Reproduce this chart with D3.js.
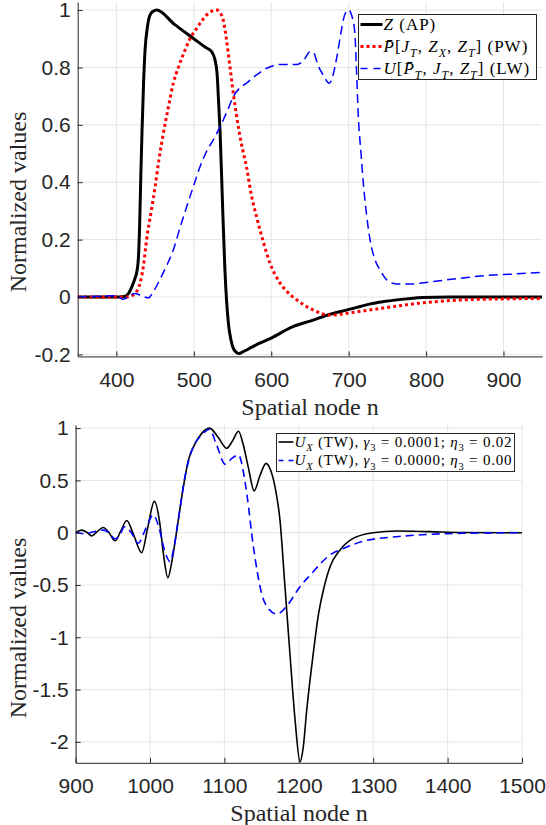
<!DOCTYPE html>
<html>
<head>
<meta charset="utf-8">
<script src="https://cdn.jsdelivr.net/npm/d3@7"></script>
<style>
    html, body { margin: 0; padding: 0; background: #ffffff; }
    svg { display: block; }
</style>
</head>
<body>
<div id="chart"></div>
<script>
// top panel: travelling pulse profiles
const topNodesZ = [350, 400, 410, 415, 420, 424, 426.5, 428.5, 430, 431.5, 433, 435, 437, 440, 443, 447, 452, 475, 500, 515, 523, 527, 530, 532, 534, 537, 540, 543, 545, 548, 551, 555, 558, 562, 570, 585, 600, 628, 650, 676, 698, 715, 728, 745, 762, 780, 796, 830, 950];
const topValuesZ = [0, 0, 0.002, 0.01, 0.036, 0.065, 0.09, 0.14, 0.25, 0.42, 0.57, 0.74, 0.86, 0.94, 0.98, 0.995, 1.0, 0.95, 0.9, 0.87, 0.855, 0.83, 0.78, 0.68, 0.57, 0.33, 0.105, -0.04, -0.1, -0.15, -0.179, -0.193, -0.197, -0.193, -0.182, -0.161, -0.143, -0.103, -0.084, -0.06, -0.045, -0.033, -0.024, -0.016, -0.01, -0.005, -0.002, 0, 0];

const topNodesP = [350, 415, 420, 425, 430.5, 435, 439, 445, 450, 455, 460.6, 467, 473.5, 480, 488.6, 495, 503.7, 511, 518.7, 525, 529.6, 534, 538, 542, 546.8, 551, 555.4, 561, 568, 574, 581, 590, 598.5, 611, 620, 633, 654, 676, 690, 697.5, 720, 740.6, 770, 796.5, 848, 913, 950];
const topValuesP = [0, 0, 0.005, 0.015, 0.048, 0.11, 0.2, 0.3, 0.384, 0.48, 0.57, 0.66, 0.745, 0.8, 0.86, 0.9, 0.936, 0.965, 0.988, 0.998, 1.0, 0.99, 0.965, 0.9, 0.8, 0.71, 0.628, 0.54, 0.454, 0.36, 0.28, 0.19, 0.117, 0.05, 0.02, -0.01, -0.045, -0.063, -0.06, -0.057, -0.048, -0.04, -0.029, -0.02, -0.01, -0.006, -0.005];

const topNodesU = [350, 380, 400, 409, 417, 424, 432, 441, 448, 456, 465, 473.5, 482, 490.8, 500, 508, 516, 525, 538, 545, 551, 560, 568, 580, 594, 611, 633, 642, 650, 655, 660, 668, 675, 680, 685, 690, 693, 697, 700, 704, 708, 710, 712.5, 716, 719, 723, 727.6, 734, 740.6, 749, 757, 766, 780, 792, 810, 827, 850, 870, 913, 950];
const topValuesU = [0, 0.003, 0.004, -0.008, 0.004, 0.012, 0.005, -0.003, 0.02, 0.06, 0.11, 0.164, 0.24, 0.315, 0.39, 0.454, 0.505, 0.547, 0.617, 0.66, 0.698, 0.73, 0.745, 0.772, 0.797, 0.81, 0.81, 0.825, 0.855, 0.85, 0.81, 0.77, 0.745, 0.775, 0.84, 0.92, 0.965, 0.995, 1.0, 0.98, 0.92, 0.8, 0.628, 0.5, 0.396, 0.29, 0.2, 0.13, 0.094, 0.06, 0.048, 0.045, 0.045, 0.048, 0.054, 0.06, 0.067, 0.073, 0.08, 0.086];

// bottom panel: U_X with and without gamma/eta terms
const bottomNodesA = [900, 908, 915, 921.6, 929, 937, 945, 953, 961, 968.7, 978, 988.8, 997, 1005.8, 1013, 1018, 1024, 1030, 1038, 1044.8, 1051.5, 1060.5, 1069.5, 1080, 1091.8, 1103, 1111, 1119, 1125, 1132, 1140, 1148, 1156, 1162, 1168, 1174.7, 1181.4, 1188, 1195, 1201.6, 1206, 1210.6, 1219.5, 1226, 1233, 1242, 1255.4, 1273, 1300, 1331.6, 1376, 1420, 1500];
const bottomValuesA = [0, 0.025, 0.005, -0.03, 0.01, 0.05, 0, -0.077, 0.02, 0.117, -0.02, -0.19, 0.05, 0.3, 0.1, -0.2, -0.43, -0.25, 0.12, 0.436, 0.69, 0.85, 0.95, 1.0, 0.91, 0.807, 0.88, 0.97, 0.85, 0.63, 0.4, 0.55, 0.663, 0.6, 0.44, 0.12, -0.516, -1.15, -1.79, -2.19, -2.05, -1.7, -1.15, -0.8, -0.55, -0.325, -0.165, -0.054, 0, 0.016, 0.01, 0.002, 0];

const bottomNodesB = [900, 912, 925, 937, 945, 953, 960, 966, 975, 984, 995, 1004.4, 1012, 1020, 1027, 1032, 1038, 1047, 1058, 1069.5, 1080, 1089.5, 1101, 1110, 1119, 1125, 1130, 1139, 1150, 1161, 1170, 1176, 1184, 1201.6, 1219.5, 1228.5, 1242, 1260, 1287, 1331.6, 1376, 1420, 1500];
const bottomValuesB = [0.005, -0.01, 0.01, 0.025, 0, -0.06, -0.01, 0.057, 0, -0.1, 0.05, 0.17, 0.05, -0.18, -0.277, -0.15, 0.12, 0.535, 0.82, 0.934, 0.99, 0.84, 0.655, 0.71, 0.745, 0.6, 0.377, -0.134, -0.58, -0.74, -0.777, -0.76, -0.7, -0.516, -0.373, -0.3, -0.213, -0.15, -0.08, -0.038, -0.016, -0.005, 0];

const topXTicks = [400, 500, 600, 700, 800, 900];
const topYTicks = [-0.2, 0, 0.2, 0.4, 0.6, 0.8, 1];
const bottomXTicks = [900, 1000, 1100, 1200, 1300, 1400, 1500];
const bottomYTicks = [-2, -1.5, -1, -0.5, 0, 0.5, 1];

const topLegendLabels = [
    [{ t: 'Z', i: true }, { t: ' (AP)' }],
    [{ t: 'P\u0304', i: true }, { t: '[' }, { t: 'J', i: true }, { t: 'T', i: true, sub: true }, { t: ', ' }, { t: 'Z', i: true }, { t: 'X', i: true, sub: true }, { t: ', ' }, { t: 'Z', i: true }, { t: 'T', i: true, sub: true }, { t: '] (PW)' }],
    [{ t: 'U', i: true }, { t: '[' }, { t: 'P\u0304', i: true }, { t: 'T', i: true, sub: true }, { t: ', ' }, { t: 'J', i: true }, { t: 'T', i: true, sub: true }, { t: ', ' }, { t: 'Z', i: true }, { t: 'T', i: true, sub: true }, { t: '] (LW)' }]
];
const bottomLegendLabels = [
    [{ t: 'U', i: true }, { t: 'X', i: true, sub: true }, { t: ' (TW), ' }, { t: '\u03b3', i: true }, { t: '3', sub: true }, { t: ' = 0.0001; ' }, { t: '\u03b7', i: true }, { t: '3', sub: true }, { t: ' = 0.02' }],
    [{ t: 'U', i: true }, { t: 'X', i: true, sub: true }, { t: ' (TW), ' }, { t: '\u03b3', i: true }, { t: '3', sub: true }, { t: ' = 0.0000; ' }, { t: '\u03b7', i: true }, { t: '3', sub: true }, { t: ' = 0.00' }]
];

const width = 546;
const height = 825;
const gridColor = '#e5e5e5';
const axisColor = '#262626';
const sansFont = "'Liberation Sans', Arial, sans-serif";
const serifFont = "'Liberation Serif', 'Times New Roman', serif";

const svg = d3.select('#chart').append('svg')
    .attr('width', width)
    .attr('height', height);

const zip = (nodes, values) => nodes.map((node, index) => ({ node, value: values[index] }));

function appendRichText(textNode, segments, fontSize) {
    const shift = fontSize * 0.28;
    let lowered = false;
    segments.forEach((segment) => {
        const span = textNode.append('tspan')
            .attr('font-style', segment.i ? 'italic' : 'normal')
            .attr('font-size', segment.sub ? fontSize * 0.7 : fontSize)
            .text(segment.t);
        if (segment.sub && !lowered) {
            span.attr('dy', shift);
            lowered = true;
        } else if (!segment.sub && lowered) {
            span.attr('dy', -shift);
            lowered = false;
        }
    });
}

function drawPanel(options) {
    const { xDomain, xRange, yDomain, yRange, xTicks, yTicks, yFormat, xPadding, series, clipId } = options;

    const xScale = d3.scaleLinear().domain(xDomain).range(xRange);
    const yScale = d3.scaleLinear().domain(yDomain).range(yRange);
    const panel = svg.append('g');

    panel.append('g')
        .selectAll('line')
        .data(xTicks)
        .enter()
        .append('line')
        .attr('x1', (tick) => xScale(tick))
        .attr('x2', (tick) => xScale(tick))
        .attr('y1', yRange[0])
        .attr('y2', yRange[1])
        .attr('stroke', gridColor)
        .attr('stroke-width', 1);

    panel.append('g')
        .selectAll('line')
        .data(yTicks)
        .enter()
        .append('line')
        .attr('x1', xRange[0])
        .attr('x2', xRange[1])
        .attr('y1', (tick) => yScale(tick))
        .attr('y2', (tick) => yScale(tick))
        .attr('stroke', gridColor)
        .attr('stroke-width', 1);

    panel.append('clipPath')
        .attr('id', clipId)
        .append('rect')
        .attr('x', xRange[0])
        .attr('y', yRange[1] - 2)
        .attr('width', xRange[1] - xRange[0])
        .attr('height', yRange[0] - yRange[1] + 4);

    const line = d3.line()
        .x((datum) => xScale(datum.node))
        .y((datum) => yScale(datum.value))
        .curve(d3.curveMonotoneX);

    const curves = panel.append('g').attr('clip-path', `url(#${clipId})`);
    series.forEach((item) => {
        curves.append('path')
            .datum(zip(item.nodes, item.values))
            .attr('d', line)
            .attr('fill', 'none')
            .attr('stroke', item.color)
            .attr('stroke-width', item.width)
            .attr('stroke-dasharray', item.dash || null)
            .attr('stroke-linejoin', 'round');
    });

    const xAxis = panel.append('g')
        .attr('transform', `translate(0,${yRange[0]})`)
        .call(d3.axisBottom(xScale).tickValues(xTicks).tickSizeInner(-5).tickSizeOuter(0).tickPadding(xPadding).tickFormat(d3.format('d')));
    const yAxis = panel.append('g')
        .attr('transform', `translate(${xRange[0]},0)`)
        .call(d3.axisLeft(yScale).tickValues(yTicks).tickSizeInner(-5).tickSizeOuter(0).tickPadding(7).tickFormat(yFormat));

    [xAxis, yAxis].forEach((axis) => {
        axis.attr('font-size', 21).attr('font-family', sansFont);
        axis.select('.domain').attr('stroke', axisColor).attr('stroke-width', 1);
        axis.selectAll('.tick line').attr('stroke', axisColor);
        axis.selectAll('.tick text')
            .attr('font-family', sansFont)
            .attr('font-size', 21)
            .attr('fill', axisColor);
    });

    return { xScale, yScale, panel };
}

function drawLegend(box, entries, fontSize, rowHeight, sampleWidth, spacing) {
    const legend = svg.append('g');
    legend.append('rect')
        .attr('x', box.x)
        .attr('y', box.y)
        .attr('width', box.width)
        .attr('height', box.height)
        .attr('fill', '#ffffff')
        .attr('stroke', '#262626')
        .attr('stroke-width', 1);

    entries.forEach((entry, index) => {
        const rowY = box.y + box.padTop + rowHeight * index;
        legend.append('line')
            .attr('x1', box.x + 2)
            .attr('x2', box.x + 2 + sampleWidth)
            .attr('y1', rowY)
            .attr('y2', rowY)
            .attr('stroke', entry.color)
            .attr('stroke-width', entry.width)
            .attr('stroke-dasharray', entry.legendDash || entry.dash || null);

        const text = legend.append('text')
            .attr('x', box.x + 3 + sampleWidth)
            .attr('y', rowY + fontSize * 0.33)
            .attr('font-family', serifFont)
            .attr('font-size', fontSize)
            .attr('letter-spacing', spacing)
            .attr('fill', '#000000');
        appendRichText(text, entry.label, fontSize);
    });
}

const topSeries = [
    { nodes: topNodesZ, values: topValuesZ, color: '#000000', width: 3, label: topLegendLabels[0] },
    { nodes: topNodesP, values: topValuesP, color: '#ff0000', width: 3, dash: '3,3', label: topLegendLabels[1] },
    { nodes: topNodesU, values: topValuesU, color: '#0000ff', width: 1.5, dash: '9,5', legendDash: '7,6', label: topLegendLabels[2] }
];

const bottomSeries = [
    { nodes: bottomNodesA, values: bottomValuesA, color: '#000000', width: 1.6, label: bottomLegendLabels[0] },
    { nodes: bottomNodesB, values: bottomValuesB, color: '#0000ff', width: 1.6, dash: '8,5', legendDash: '5,5', label: bottomLegendLabels[1] }
];

drawPanel({
    xDomain: [350, 950],
    xRange: [77.7, 542.2],
    yDomain: [-0.207, 1.028],
    yRange: [356.4, 2],
    xTicks: topXTicks,
    yTicks: topYTicks,
    yFormat: (value) => d3.format('.1~f')(value).replace('\u2212', '-'),
    xPadding: 16,
    series: topSeries,
    clipId: 'clip-top'
});

drawPanel({
    xDomain: [900, 1500],
    xRange: [75.6, 522],
    yDomain: [-2.2, 1.03],
    yRange: [762.8, 425],
    xTicks: bottomXTicks,
    yTicks: bottomYTicks,
    yFormat: (value) => d3.format('~g')(value).replace('\u2212', '-'),
    xPadding: 15,
    series: bottomSeries,
    clipId: 'clip-bottom'
});

const axisLabels = [
    { text: 'Spatial node n', x: 310, y: 415, rotate: false },
    { text: 'Spatial node n', x: 299, y: 821, rotate: false },
    { text: 'Normalized values', x: 26, y: 202, rotate: true },
    { text: 'Normalized values', x: 26, y: 628, rotate: true }
];

axisLabels.forEach((label) => {
    svg.append('text')
        .attr('transform', label.rotate ? `translate(${label.x},${label.y}) rotate(-90)` : `translate(${label.x},${label.y})`)
        .attr('text-anchor', 'middle')
        .attr('font-family', serifFont)
        .attr('font-size', 24)
        .attr('fill', axisColor)
        .text(label.text);
});

drawLegend({ x: 358.5, y: 14.5, width: 178, height: 65, padTop: 10 }, topSeries, 17, 22, 22, 1);
drawLegend({ x: 276.5, y: 433.5, width: 238, height: 38, padTop: 8.5 }, bottomSeries, 15, 18.5, 15, 0.8);
</script>
</body>
</html>
